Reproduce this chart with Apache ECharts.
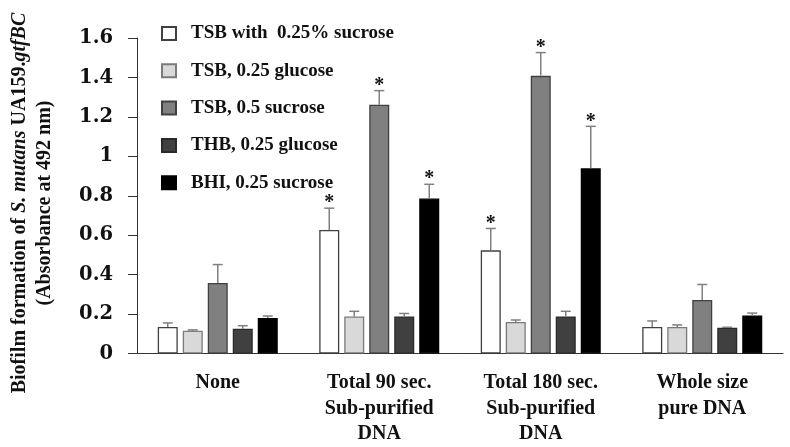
<!DOCTYPE html>
<html><head><meta charset="utf-8">
<script src="https://cdn.jsdelivr.net/npm/echarts@6/dist/echarts.min.js"></script>
<style>html,body{margin:0;padding:0;background:#fff}#c{width:790px;height:447px}</style>
</head><body><div id="c"></div>
<script>
const categories = ['None', 'Total 90 sec.\nSub-purified\nDNA', 'Total 180 sec.\nSub-purified\nDNA', 'Whole size\npure DNA'];
const seriesNames = ['TSB with  0.25% sucrose', 'TSB, 0.25 glucose', 'TSB, 0.5 sucrose', 'THB, 0.25 glucose', 'BHI, 0.25 sucrose'];
const tsbSuc025 = [0.135, 0.626, 0.523, 0.135];
const tsbGlu025 = [0.116, 0.188, 0.160, 0.135];
const tsbSuc05  = [0.358, 1.262, 1.408, 0.271];
const thbGlu025 = [0.126, 0.188, 0.188, 0.131];
const bhiSuc025 = [0.180, 0.786, 0.939, 0.193];
const errTsbSuc025 = [0.020, 0.111, 0.111, 0.030];
const errTsbGlu025 = [0.004, 0.026, 0.010, 0.010];
const errTsbSuc05  = [0.093, 0.071, 0.118, 0.079];
const errThbGlu025 = [0.015, 0.015, 0.026, 0.002];
const errBhiSuc025 = [0.010, 0.072, 0.213, 0.012];
const sigTsbSuc025 = [false, true, true, false];
const sigTsbGlu025 = [false, false, false, false];
const sigTsbSuc05  = [false, true, true, false];
const sigThbGlu025 = [false, false, false, false];
const sigBhiSuc025 = [false, true, true, false];
const yTicks = {min: 0, max: 1.6, interval: 0.2};

const values = [tsbSuc025, tsbGlu025, tsbSuc05, thbGlu025, bhiSuc025];
const errs = [errTsbSuc025, errTsbGlu025, errTsbSuc05, errThbGlu025, errBhiSuc025];
const sigs = [sigTsbSuc025, sigTsbGlu025, sigTsbSuc05, sigThbGlu025, sigBhiSuc025];
const fills = ['#ffffff', '#d9d9d9', '#808080', '#404040', '#000000'];
const borders = ['#404040', '#7a7a7a', '#404040', '#2a2a2a', '#000000'];
const BAR_W = 20, BAR_STEP = 25;
const serif = '"Liberation Serif", "Times New Roman", serif';

const series = [];
values.forEach((vals, i) => {
  series.push({
    name: seriesNames[i], type: 'bar', data: vals,
    barWidth: BAR_W, barGap: '25%', barCategoryGap: '25%',
    itemStyle: {color: fills[i], borderColor: borders[i], borderWidth: 1.3},
    z: 2
  });
});
values.forEach((vals, i) => {
  series.push({
    type: 'custom', name: seriesNames[i] + ' err', z: 3, silent: true,
    data: vals.map((v, k) => [k, v, errs[i][k], sigs[i][k] ? 1 : 0]),
    renderItem: function (params, api) {
      const k = api.value(0), v = api.value(1), e = api.value(2), s = api.value(3);
      const base = api.coord([k, v]);
      const top = api.coord([k, v + e]);
      const x = base[0] + (i - 2) * BAR_STEP;
      const children = [
        {type: 'line', shape: {x1: x, y1: base[1], x2: x, y2: top[1]}, style: {stroke: '#808080', lineWidth: 1.5}},
        {type: 'line', shape: {x1: x - 5, y1: top[1], x2: x + 5, y2: top[1]}, style: {stroke: '#808080', lineWidth: 1.5}}
      ];
      if (s) children.push({type: 'text', x: x, y: top[1] + 5, style: {text: '*', fill: '#111', font: 'bold 20px ' + serif, textAlign: 'center', textVerticalAlign: 'bottom'}});
      return {type: 'group', children: children};
    }
  });
});

const chart = echarts.init(document.getElementById('c'), null, {renderer: 'canvas'});
chart.setOption({
  animation: false,
  backgroundColor: '#fff',
  grid: {left: 137, right: 7, top: 38, bottom: 92, containLabel: false},
  legend: {
    orient: 'vertical', left: 156, top: 19, itemWidth: 14, itemHeight: 13, itemGap: 18.3,
    icon: 'rect',
    data: seriesNames,
    textStyle: {fontFamily: serif, fontWeight: 'bold', fontSize: 19, color: '#111', padding: [0, 0, 0, 10]}
  },
  xAxis: {
    type: 'category', data: categories,
    axisLine: {lineStyle: {color: '#333', width: 1}},
    axisTick: {show: false},
    axisLabel: {fontFamily: serif, fontWeight: 'bold', fontSize: 20, color: '#111', lineHeight: 25.5, margin: 17, interval: 0}
  },
  yAxis: {
    type: 'value', min: yTicks.min, max: yTicks.max, interval: yTicks.interval,
    axisLine: {show: true, lineStyle: {color: '#333', width: 1}},
    axisTick: {show: true, length: 9, lineStyle: {color: '#333'}},
    splitLine: {show: false},
    axisLabel: {fontFamily: '"DejaVu Serif", serif', fontWeight: 'bold', fontSize: 19.5, color: '#111', margin: 24}
  },
  graphic: [{
    type: 'text', x: 32, y: 203, rotation: Math.PI / 2,
    style: {
      text: '{b|Biofilm formation of }{i|S. mutans}{b| UA159.}{i|gtfBC}\n{b|(Absorbance at 492 nm)}',
      textAlign: 'center', textVerticalAlign: 'middle',
      rich: {
        b: {fontFamily: serif, fontWeight: 'bold', fontSize: 20, fill: '#111', lineHeight: 25, align: 'center'},
        i: {fontFamily: serif, fontWeight: 'bold', fontStyle: 'italic', fontSize: 20, fill: '#111', lineHeight: 25}
      }
    }
  }],
  series: series
});
</script></body></html>
